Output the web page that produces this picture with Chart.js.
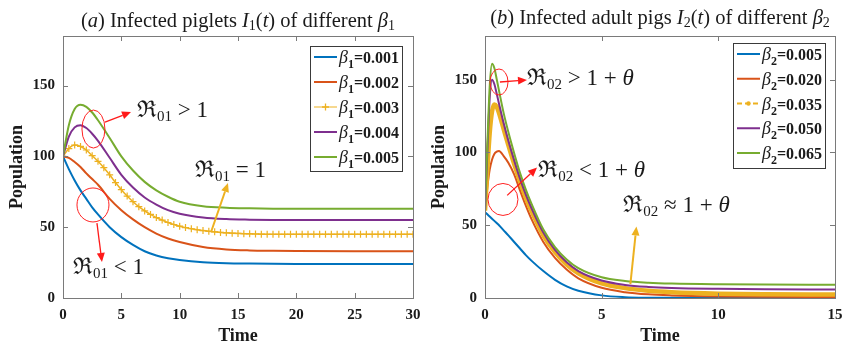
<!DOCTYPE html>
<html>
<head>
<meta charset="utf-8">
<script src="https://cdn.jsdelivr.net/npm/chart.js@4.4.1/dist/chart.umd.min.js"></script>
<style>
  html, body { margin: 0; padding: 0; background: #fff; }
  #wrap { display: flex; width: 844px; height: 348px; }
  canvas { display: block; }
</style>
</head>
<body>
<div id="wrap">
  <canvas id="chartA" width="422" height="348"></canvas>
  <canvas id="chartB" width="422" height="348"></canvas>
</div>
<script>
// ---- panel (a): infected piglets I1(t), beta1 ----
const betaA = ["0.001", "0.002", "0.003", "0.004", "0.005"];
const timeA = [0, 0.5, 1, 1.5, 2, 2.5, 3, 4, 5, 6, 7, 8, 9, 10, 12, 14, 16, 18, 20, 25, 30];
const pigletB001 = [100, 91, 83, 76, 70, 64, 59, 50, 43, 37.5, 33, 30, 28, 26.8, 25.3, 24.6, 24.3, 24.1, 24, 24, 24];
const pigletB002 = [100, 99, 96, 92.5, 88, 84, 80, 70, 62, 55.5, 50, 45.5, 42, 39.5, 36, 34.3, 33.6, 33.3, 33.1, 33, 33];
const pigletB004 = [100, 114, 120.5, 122, 120, 116, 111, 99, 87, 78, 71, 66, 62, 59.5, 56.8, 55.7, 55.3, 55.1, 55, 55, 55];
const pigletB005 = [100, 122, 133.5, 136.5, 135, 131, 125.5, 113, 100, 90, 82, 76, 71.5, 68, 64.8, 63.7, 63.3, 63.1, 63, 63, 63];
// beta1 = 0.003 is plotted with '+' markers, read on a finer step
const timeA3 = [0, 0.5, 1, 1.5, 2, 2.5, 3, 3.5, 4, 4.5, 5, 5.5, 6, 6.5, 7, 7.5, 8, 8.5, 9, 9.5,
  10, 10.5, 11, 11.5, 12, 12.5, 13, 13.5, 14, 14.5, 15, 15.5, 16, 16.5, 17, 17.5, 18, 18.5, 19, 19.5,
  20, 20.5, 21, 21.5, 22, 22.5, 23, 23.5, 24, 24.5, 25, 25.5, 26, 26.5, 27, 27.5, 28, 28.5, 29, 29.5, 30];
const pigletB003 = [100, 105.5, 108, 107, 104.5, 100.5, 96.5, 92, 87, 81.5, 76.5, 72, 68, 64.5, 61.5, 59, 56.8, 55, 53.3, 51.9,
  50.7, 49.7, 48.9, 48.2, 47.6, 47.1, 46.7, 46.3, 46, 45.8, 45.6, 45.4, 45.3, 45.2, 45.1, 45, 45, 45, 45, 45,
  45, 45, 45, 45, 45, 45, 45, 45, 45, 45, 45, 45, 45, 45, 45, 45, 45, 45, 45, 45, 45];

// ---- panel (b): infected adult pigs I2(t), beta2 ----
const betaB = ["0.005", "0.020", "0.035", "0.050", "0.065"];
const timeB = [0, 0.1, 0.2, 0.3, 0.4, 0.5, 0.6, 0.8, 1, 1.25, 1.5, 1.75, 2, 2.5, 3, 3.5, 4, 5, 6, 7, 8, 10, 12, 15];
const adultB005 = [59, 57.5, 56, 54.5, 53, 51.5, 50, 46.5, 43, 38.5, 34, 29.5, 25.5, 18.5, 12.5, 8, 5, 1.8, 0.6, 0.2, 0.1, 0, 0, 0];
const adultB020 = [60, 76, 88, 95, 99, 100.5, 101, 97.5, 93, 85, 74, 63.5, 54, 38.5, 27.5, 19.5, 13.5, 7, 4, 2.5, 1.8, 1.1, 0.8, 0.7];
const adultB035 = [60, 88, 113, 128, 133, 131.5, 127, 116, 105, 92, 80, 69, 59.5, 43, 31.5, 23, 17, 10, 6.8, 5, 4, 3, 2.6, 2.4];
const adultB050 = [60, 100, 137, 150, 147, 140.5, 133.5, 120, 108, 94.5, 82, 71, 61.5, 45, 33, 24.5, 18.5, 12, 9, 7.6, 6.9, 6.3, 6, 5.9];
const adultB065 = [60, 105, 145, 161, 158, 150.5, 142.5, 127, 114, 99.5, 86, 74.5, 64.5, 47, 35, 26.5, 20.5, 14.2, 11.7, 10.5, 9.9, 9.4, 9.2, 9.1];

const COLORS = ["#0072BD", "#D95319", "#EDB120", "#7E2F8E", "#77AC30"];
const SERIF = "'Liberation Serif', 'DejaVu Serif', serif";
const INK = "#1a1a1a";

function pts(xs, ys) {
  return xs.map((x, i) => ({ x: x, y: ys[i] }));
}

function runsWidth(ctx, runs) {
  let w = 0;
  runs.forEach((r) => { ctx.font = r.font; w += ctx.measureText(r.text).width; });
  return w;
}

function drawRuns(ctx, x, y, runs, align) {
  let cx = align === "center" ? x - runsWidth(ctx, runs) / 2 : x;
  ctx.textAlign = "left";
  ctx.textBaseline = "alphabetic";
  runs.forEach((r) => {
    ctx.font = r.font;
    ctx.fillText(r.text, cx, y + (r.dy || 0));
    cx += ctx.measureText(r.text).width;
  });
}

function arrow(ctx, x1, y1, x2, y2, color, lw) {
  const a = Math.atan2(y2 - y1, x2 - x1), h = 9, w = 4;
  const bx = x2 - h * Math.cos(a), by = y2 - h * Math.sin(a);
  ctx.strokeStyle = color;
  ctx.fillStyle = color;
  ctx.lineWidth = lw;
  ctx.beginPath();
  ctx.moveTo(x1, y1);
  ctx.lineTo(bx, by);
  ctx.stroke();
  ctx.beginPath();
  ctx.moveTo(x2, y2);
  ctx.lineTo(bx + w * Math.sin(a), by - w * Math.cos(a));
  ctx.lineTo(bx - w * Math.sin(a), by + w * Math.cos(a));
  ctx.closePath();
  ctx.fill();
}

// R-notation label, e.g. R01 > 1
function rLabel(sub, rest) {
  const runs = [
    { text: "\u211C", font: "23px " + SERIF },
    { text: sub, font: "15px " + SERIF, dy: 4 },
  ];
  rest.forEach((r) => runs.push(r));
  return runs;
}
const REL = "23px " + SERIF;
const REL_IT = "italic 23px " + SERIF;
const TT = "20.5px " + SERIF;
const TT_IT = "italic 20.5px " + SERIF;
const TT_SUB = "14px " + SERIF;

// titles, legends and annotations for each panel
const panelDecor = {
  chartA: {
    titleY: 27,
    title: [
      { text: "(", font: TT },
      { text: "a", font: TT_IT },
      { text: ") Infected piglets ", font: TT },
      { text: "I", font: TT_IT },
      { text: "1", font: TT_SUB, dy: 3 },
      { text: "(", font: TT },
      { text: "t", font: TT_IT },
      { text: ") of different ", font: TT },
      { text: "\u03B2", font: TT_IT },
      { text: "1", font: TT_SUB, dy: 3 },
    ],
    legend: { x: 310, y: 46, w: 92, h: 125, first: 11, step: 25, sub: "1", values: betaA, yellow: "plus" },
    ellipses: [
      { t: 2.61, v: 119.3, rx: 11.5, ry: 19 },
      { t: 2.57, v: 65.7, rx: 16, ry: 17 },
    ],
    arrows: [
      { t1: 3.6, v1: 124.2, t2: 5.83, v2: 131.3, color: "#ff1a1a", lw: 1.3 },
      { t1: 2.91, v1: 52.9, t2: 3.34, v2: 25.4, color: "#ff1a1a", lw: 1.3 },
      { t1: 12.69, v1: 46.6, t2: 14.14, v2: 81.2, color: "#EDB120", lw: 2 },
    ],
    notes: [
      { t: 6.34, v: 132.7, runs: rLabel("01", [{ text: " > 1", font: REL }]) },
      { t: 0.86, v: 21.9, runs: rLabel("01", [{ text: " < 1", font: REL }]) },
      { t: 11.31, v: 90.4, runs: rLabel("01", [{ text: " = 1", font: REL }]) },
    ],
  },
  chartB: {
    titleY: 24,
    title: [
      { text: "(", font: TT },
      { text: "b", font: TT_IT },
      { text: ") Infected adult pigs ", font: TT },
      { text: "I", font: TT_IT },
      { text: "2", font: TT_SUB, dy: 3 },
      { text: "(", font: TT },
      { text: "t", font: TT_IT },
      { text: ") of different ", font: TT },
      { text: "\u03B2", font: TT_IT },
      { text: "2", font: TT_SUB, dy: 3 },
    ],
    legend: { x: 311, y: 43, w: 92, h: 125, first: 11, step: 24.75, sub: "2", values: betaB, yellow: "dash" },
    ellipses: [
      { t: 0.6, v: 148.4, rx: 9, ry: 13 },
      { t: 0.77, v: 67.7, rx: 15, ry: 16 },
    ],
    arrows: [
      { t1: 0.64, v1: 148.4, t2: 1.8, v2: 149.8, color: "#ff1a1a", lw: 1.3 },
      { t1: 0.95, v1: 70.5, t2: 2.23, v2: 89.6, color: "#ff1a1a", lw: 1.3 },
      { t1: 6.23, v1: 9.6, t2: 6.49, v2: 49.2, color: "#EDB120", lw: 2 },
    ],
    notes: [
      { t: 1.8, v: 151.2, runs: rLabel("02", [{ text: " > 1 + ", font: REL }, { text: "\u03B8", font: REL_IT }]) },
      { t: 2.28, v: 87.6, runs: rLabel("02", [{ text: " < 1 + ", font: REL }, { text: "\u03B8", font: REL_IT }]) },
      { t: 5.93, v: 63.6, runs: rLabel("02", [{ text: " \u2248 1 + ", font: REL }, { text: "\u03B8", font: REL_IT }]) },
    ],
  },
};

function drawLegend(ctx, lg) {
  ctx.fillStyle = "#fff";
  ctx.fillRect(lg.x, lg.y, lg.w, lg.h);
  ctx.strokeStyle = "#3a3a3a";
  ctx.lineWidth = 1;
  ctx.strokeRect(lg.x + 0.5, lg.y + 0.5, lg.w, lg.h);
  lg.values.forEach((val, i) => {
    const y = lg.y + lg.first + i * lg.step;
    const x1 = lg.x + 4, x2 = lg.x + 27;
    ctx.strokeStyle = COLORS[i];
    ctx.lineWidth = 2;
    if (i === 2 && lg.yellow === "dash") ctx.setLineDash([5, 3]);
    if (i === 2 && lg.yellow === "plus") ctx.lineWidth = 1;
    ctx.beginPath();
    ctx.moveTo(x1, y);
    ctx.lineTo(x2, y);
    ctx.stroke();
    ctx.setLineDash([]);
    if (i === 2) {
      const mx = (x1 + x2) / 2;
      ctx.lineWidth = 1.3;
      ctx.beginPath();
      if (lg.yellow === "plus") {
        ctx.moveTo(mx - 3.5, y); ctx.lineTo(mx + 3.5, y);
        ctx.moveTo(mx, y - 3.5); ctx.lineTo(mx, y + 3.5);
        ctx.stroke();
      } else {
        ctx.fillStyle = COLORS[i];
        ctx.arc(mx, y, 2.2, 0, Math.PI * 2);
        ctx.fill();
      }
    }
    ctx.fillStyle = INK;
    drawRuns(ctx, x2 + 2, y + 6, [
      { text: "\u03B2", font: "italic 18px " + SERIF },
      { text: lg.sub, font: "bold 12px " + SERIF, dy: 5 },
      { text: "=" + val, font: "bold 16px " + SERIF },
    ]);
  });
}

const decorPlugin = {
  id: "decor",
  afterDraw(chart) {
    const d = panelDecor[chart.canvas.id];
    const ctx = chart.ctx;
    const { left, right, top, bottom } = chart.chartArea;
    const xs = chart.scales.x, ys = chart.scales.y;
    ctx.save();

    // box with inward ticks on all four sides
    ctx.strokeStyle = "#7a7a7a";
    ctx.lineWidth = 1;
    ctx.strokeRect(left + 0.5, top + 0.5, right - left, bottom - top);
    ctx.beginPath();
    xs.ticks.forEach((tk) => {
      const px = Math.round(xs.getPixelForValue(tk.value)) + 0.5;
      ctx.moveTo(px, bottom); ctx.lineTo(px, bottom - 5);
      ctx.moveTo(px, top); ctx.lineTo(px, top + 5);
    });
    ys.ticks.forEach((tk) => {
      const py = Math.round(ys.getPixelForValue(tk.value)) + 0.5;
      ctx.moveTo(left, py); ctx.lineTo(left + 5, py);
      ctx.moveTo(right, py); ctx.lineTo(right - 5, py);
    });
    ctx.stroke();

    // title
    ctx.fillStyle = INK;
    drawRuns(ctx, (left + right) / 2, d.titleY, d.title, "center");

    // circles, arrows, notes
    ctx.strokeStyle = "#ff2020";
    ctx.lineWidth = 1;
    d.ellipses.forEach((e) => {
      ctx.beginPath();
      ctx.ellipse(xs.getPixelForValue(e.t), ys.getPixelForValue(e.v), e.rx, e.ry, 0, 0, Math.PI * 2);
      ctx.stroke();
    });
    d.arrows.forEach((a) => {
      arrow(ctx, xs.getPixelForValue(a.t1), ys.getPixelForValue(a.v1),
        xs.getPixelForValue(a.t2), ys.getPixelForValue(a.v2), a.color, a.lw);
    });
    ctx.fillStyle = INK;
    d.notes.forEach((n) => {
      drawRuns(ctx, xs.getPixelForValue(n.t), ys.getPixelForValue(n.v) + 7, n.runs);
    });

    drawLegend(ctx, d.legend);
    ctx.restore();
  },
};

function lineSet(label, data, i, extra) {
  return Object.assign({
    label: label,
    data: data,
    borderColor: COLORS[i],
    backgroundColor: COLORS[i],
    borderWidth: 2,
    pointRadius: 0,
    cubicInterpolationMode: "monotone",
    order: 5 - i,
  }, extra || {});
}

function makeChart(id, datasets, xMax, yMax, padRight) {
  const tickFont = { family: SERIF, size: 15, weight: "bold" };
  const titleFont = { family: SERIF, size: 18, weight: "bold" };
  return new Chart(document.getElementById(id), {
    type: "line",
    data: { datasets: datasets },
    options: {
      responsive: false,
      animation: false,
      devicePixelRatio: 1,
      layout: { padding: { top: 36, right: padRight, left: 0, bottom: 0 } },
      plugins: { legend: { display: false }, tooltip: { enabled: false } },
      scales: {
        x: {
          type: "linear",
          min: 0,
          max: xMax,
          ticks: { stepSize: 5, font: tickFont, color: INK, padding: 8, maxRotation: 0, includeBounds: false },
          grid: { display: false, drawTicks: false },
          border: { display: false },
          title: { display: true, text: "Time", font: titleFont, color: INK, padding: { top: 0, bottom: 1 } },
          afterFit(s) {
            s.height = 50;
            // let the last tick label hang over the padding instead of shrinking the plot
            s.paddingLeft = 0;
            s.paddingRight = 0;
          },
        },
        y: {
          type: "linear",
          min: 0,
          max: yMax,
          ticks: { stepSize: 50, font: tickFont, color: INK, padding: 8, includeBounds: false },
          grid: { display: false, drawTicks: false },
          border: { display: false },
          title: { display: true, text: "Population", font: titleFont, color: INK, padding: { top: 7, bottom: 0 } },
          afterFit(s) { s.width = 63; },
        },
      },
    },
    plugins: [decorPlugin],
  });
}

makeChart("chartA", [
  lineSet("\u03B21=" + betaA[0], pts(timeA, pigletB001), 0),
  lineSet("\u03B21=" + betaA[1], pts(timeA, pigletB002), 1),
  lineSet("\u03B21=" + betaA[2], pts(timeA3, pigletB003), 2, {
    borderWidth: 1.5, pointStyle: "cross", pointRadius: 3.5, pointBorderWidth: 1.2,
  }),
  lineSet("\u03B21=" + betaA[3], pts(timeA, pigletB004), 3),
  lineSet("\u03B21=" + betaA[4], pts(timeA, pigletB005), 4),
], 30, 185, 9);

makeChart("chartB", [
  lineSet("\u03B22=" + betaB[0], pts(timeB, adultB005), 0),
  lineSet("\u03B22=" + betaB[1], pts(timeB, adultB020), 1),
  lineSet("\u03B22=" + betaB[2], pts(timeB, adultB035), 2, { borderWidth: 4.5 }),
  lineSet("\u03B22=" + betaB[3], pts(timeB, adultB050), 3),
  lineSet("\u03B22=" + betaB[4], pts(timeB, adultB065), 4),
], 15, 180, 9);
</script>
</body>
</html>
